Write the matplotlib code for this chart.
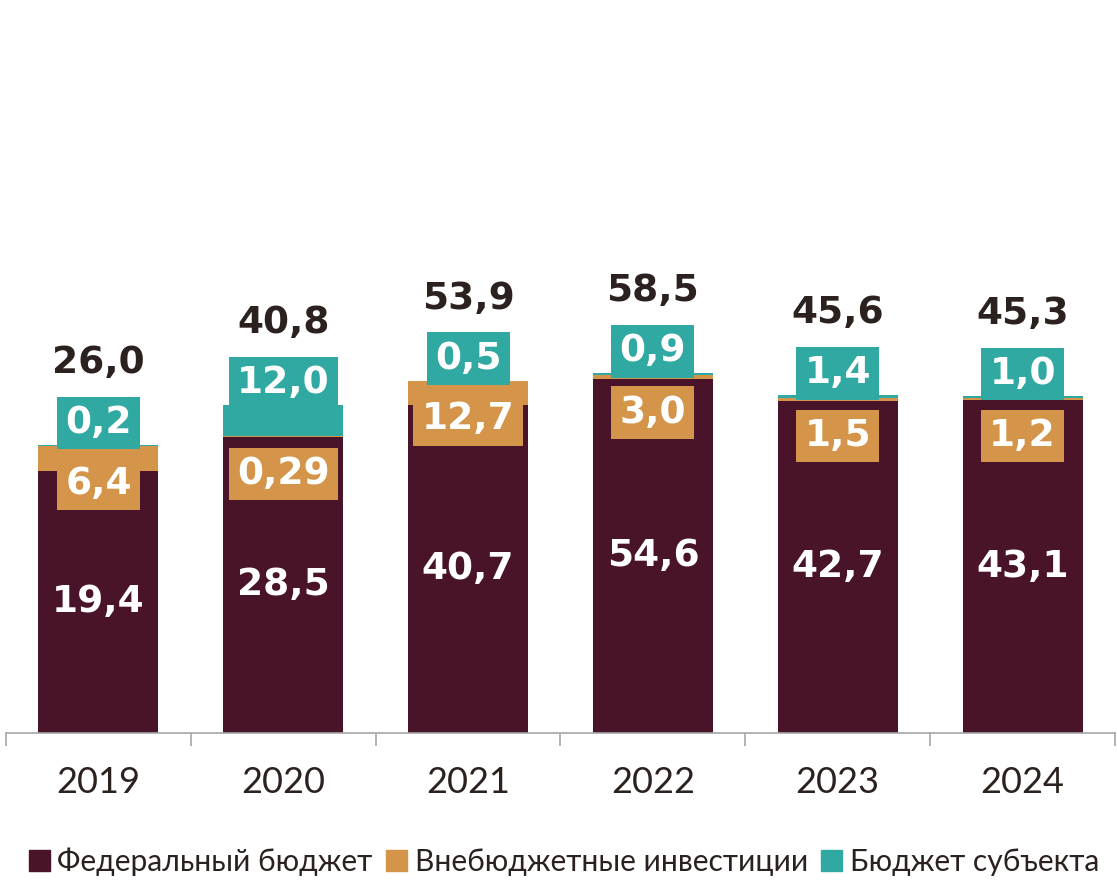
import numpy as np
import matplotlib
matplotlib.use('Agg')
import matplotlib.pyplot as plt
from matplotlib.patches import Patch

# data
years = ['2019', '2020', '2021', '2022', '2023', '2024']
federal = [19.4, 28.5, 40.7, 54.6, 42.7, 43.1]
extra = [6.4, 0.29, 12.7, 3.0, 1.5, 1.2]
region = [0.2, 12.0, 0.5, 0.9, 1.4, 1.0]
totals = [26.0, 40.8, 53.9, 58.5, 45.6, 45.3]
series_names = ['Федеральный бюджет', 'Внебюджетные инвестиции', 'Бюджет субъекта']

C_FED = '#49142A'
C_EXT = '#D4954A'
C_REG = '#2FA9A1'
C_TXT = '#2B2220'


def fmt(v):
    s = ('%.2f' % v) if v < 1 and round(v, 1) != v else ('%.1f' % v)
    return s.replace('.', ',')


fig = plt.figure(figsize=(11.17, 8.82), dpi=100)
ax = fig.add_axes([6 / 1117, 149 / 882, 1109 / 1117, 733 / 882])

x = np.arange(len(years))
fed = np.array(federal)
ext = np.array(extra)
reg = np.array(region)
w = 0.65

ax.bar(x, fed, w, bottom=0, color=C_FED, zorder=2)
ax.bar(x, ext, w, bottom=fed, color=C_EXT, zorder=2)
ax.bar(x, reg, w, bottom=fed + ext, color=C_REG, zorder=2)

# chart uses a log scale starting at 1
ax.set_yscale('log')
ax.set_ylim(1, np.exp(733 / 88.4))
ax.set_xlim(-0.5, len(years) - 0.5)

lab_font = dict(family=['DejaVu Sans'], fontsize=27, fontweight='bold')

for i in range(len(years)):
    top = fed[i] + ext[i] + reg[i]
    ax.annotate(fmt(federal[i]), (x[i], np.sqrt(fed[i])), ha='center', va='center',
                color='white', zorder=5, **lab_font)
    ax.annotate(fmt(extra[i]), (x[i], fed[i] + ext[i]), xytext=(0, -38),
                textcoords='offset pixels', ha='center', va='center', color='white', zorder=5,
                bbox=dict(boxstyle='square,pad=0.22', fc=C_EXT, ec='none'), **lab_font)
    ax.annotate(fmt(region[i]), (x[i], top), xytext=(0, 22),
                textcoords='offset pixels', ha='center', va='center', color='white', zorder=6,
                bbox=dict(boxstyle='square,pad=0.22', fc=C_REG, ec='none'), **lab_font)
    ax.annotate(fmt(totals[i]), (x[i], top), xytext=(0, 82),
                textcoords='offset pixels', ha='center', va='center', color=C_TXT, zorder=6,
                **lab_font)

for s in ['top', 'left', 'right']:
    ax.spines[s].set_visible(False)
ax.spines['bottom'].set_color('#A6A6A6')
ax.spines['bottom'].set_linewidth(1.2)
ax.yaxis.set_visible(False)

ax.set_xticks(x)
ax.set_xticklabels(years, family=['Lato', 'DejaVu Sans'], fontsize=26, color=C_TXT)
ax.tick_params(axis='x', which='major', length=0, pad=24)
ax.set_xticks(np.arange(-0.5, len(years)), minor=True)
ax.tick_params(axis='x', which='minor', length=9, width=1.2, color='#A6A6A6', direction='out')

handles = [Patch(color=C_FED), Patch(color=C_EXT), Patch(color=C_REG)]
fig.legend(handles, series_names, loc='center', bbox_to_anchor=(0.505, 20 / 882), ncol=3,
           frameon=False, prop=dict(family=['Lato', 'DejaVu Sans'], size=21.6),
           handlelength=0.7, handleheight=0.7, handletextpad=0.25, columnspacing=0.45,
           labelcolor=C_TXT)

fig.savefig('out.png', dpi=100)
